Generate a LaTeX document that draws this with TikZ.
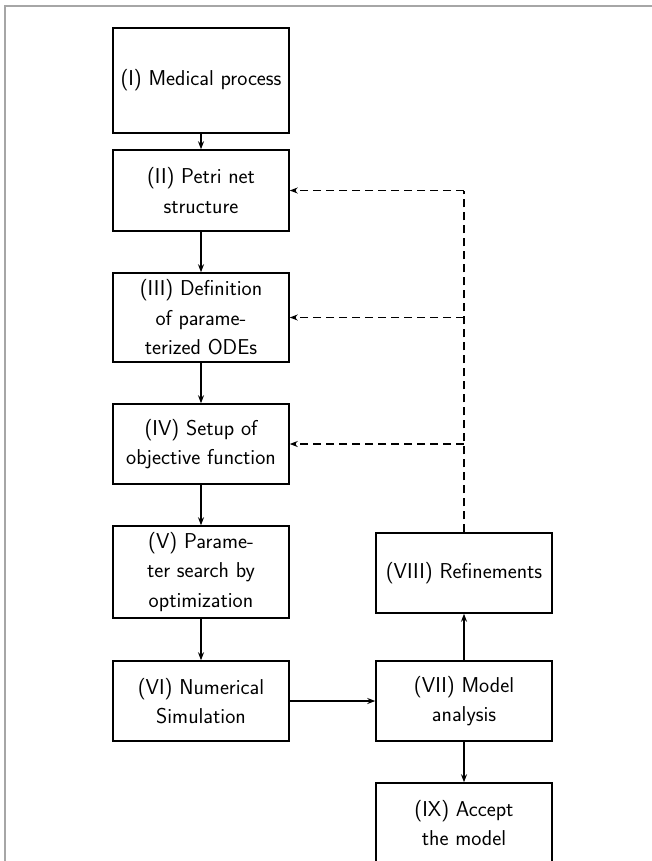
\documentclass[tikz,border=0pt]{standalone}
\usepackage{fontspec}
\usetikzlibrary{arrows.meta}
\begin{document}
\begin{tikzpicture}[x=1pt,y=-1pt,
  box/.style={draw, line width=1.5pt, minimum width=176pt, inner sep=0pt, align=center,
    font=\sffamily\fontsize{21.5}{29.5}\selectfont},
  flow/.style={line width=1.3pt, -{Stealth[length=8pt,width=6pt]}},
  fb/.style={line width=1.3pt, dash pattern=on 8pt off 5pt},
  fbarrow/.style={fb, -{Stealth[length=8pt,width=6pt]}}]
\useasboundingbox (0,0) rectangle (652,861);
\draw[black!35, line width=1.2pt] (5,861) -- (5,6) -- (652,6);
\node[box, minimum height=105pt] (i) at (201,80.5) {(I) Medical process};
\node[box, minimum height=81pt] (ii) at (201,190.5) {(II) Petri net\\structure};
\node[box, minimum height=89pt] (iii) at (201,317.5) {(III) Definition\\of parame-\\terized ODEs};
\node[box, minimum height=80pt] (iv) at (201,444) {(IV) Setup of\\objective function};
\node[box, minimum height=92pt] (v) at (201,572) {(V) Parame-\\ter search by\\optimization};
\node[box, minimum height=80pt] (vi) at (201,701) {(VI) Numerical\\Simulation};
\node[box, minimum height=80pt] (vii) at (464,701) {(VII) Model\\analysis};
\node[box, minimum height=80pt] (viii) at (464,573) {(VIII) Refinements};
\node[box, minimum height=80pt] (ix) at (464,823) {(IX) Accept\\the model};
\draw[flow] (i) -- (ii);
\draw[flow] (ii) -- (iii);
\draw[flow] (iii) -- (iv);
\draw[flow] (iv) -- (v);
\draw[flow] (v) -- (vi);
\draw[flow] (vi) -- (vii);
\draw[flow] (vii) -- (viii);
\draw[flow] (vii) -- (ix);
\coordinate (c2) at (viii.north |- ii.east);
\coordinate (c3) at (viii.north |- iii.east);
\coordinate (c4) at (viii.north |- iv.east);
\draw[fb] (viii.north) -- (c2);
\draw[fbarrow] (c2) -- (ii.east);
\draw[fbarrow] (c3) -- (iii.east);
\draw[fbarrow] (c4) -- (iv.east);
\end{tikzpicture}
\end{document}
